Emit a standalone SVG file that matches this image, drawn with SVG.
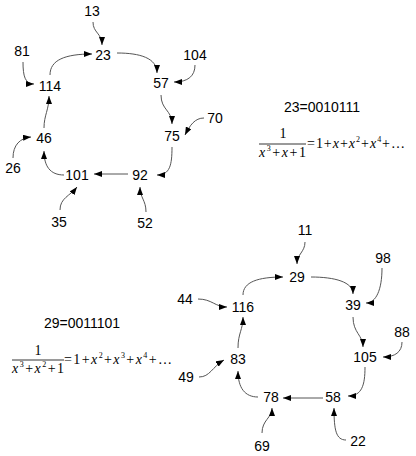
<svg xmlns="http://www.w3.org/2000/svg" width="416" height="456" viewBox="0 0 416 456">
<style>
.n{font-family:"Liberation Sans",Arial,sans-serif;font-size:14px;fill:#000;text-anchor:middle}
.m{font-family:"Liberation Serif","Times New Roman",serif;font-size:14px;fill:#000}
.i{font-style:italic}
.e path{fill:none;stroke:#555;stroke-width:1}
</style>
<defs>
<marker id="a" markerUnits="userSpaceOnUse" markerWidth="8" markerHeight="6" refX="8" refY="3" orient="auto"><path d="M0,0 L8,3 L0,6 z" fill="#000"/></marker>
</defs>
<g id="edges" class="e">
<path marker-end="url(#a)" d="M93,22 C93,33 102,33 102,45"/>
<path marker-end="url(#a)" d="M117,53 C140,53 157,58 157,73"/>
<path marker-end="url(#a)" d="M195,65 C195,76 188,82 174,82"/>
<path marker-end="url(#a)" d="M23,62 C23,76 25,84 34,84"/>
<path marker-end="url(#a)" d="M50,75 C50,60 65,54 92,54"/>
<path marker-end="url(#a)" d="M161,95 C161,110 172,110 172,124"/>
<path marker-end="url(#a)" d="M204,118 C195,118 190,125 185,135"/>
<path marker-end="url(#a)" d="M172,147 C172,165 170,175 157,175"/>
<path marker-end="url(#a)" d="M128,174 L94,174"/>
<path marker-end="url(#a)" d="M60,210 C60,198 70,196 77,187"/>
<path marker-end="url(#a)" d="M146,212 C146,200 140,198 140,187"/>
<path marker-end="url(#a)" d="M64,175 C50,175 44,166 44,151"/>
<path marker-end="url(#a)" d="M13,158 C13,145 20,138 31,137"/>
<path marker-end="url(#a)" d="M44,128 C44,115 49,110 49,96"/>
<path marker-end="url(#a)" d="M305,242 C305,252 297,254 297,264"/>
<path marker-end="url(#a)" d="M311,277 C335,277 353,282 353,294"/>
<path marker-end="url(#a)" d="M382,268 C382,290 376,303 366,303"/>
<path marker-end="url(#a)" d="M198,299 C212,299 215,307 227,307"/>
<path marker-end="url(#a)" d="M243,295 C243,282 258,277 283,277"/>
<path marker-end="url(#a)" d="M353,317 C353,333 363,335 363,347"/>
<path marker-end="url(#a)" d="M402,342 C402,352 395,357 383,357"/>
<path marker-end="url(#a)" d="M365,367 C365,385 362,396 348,396"/>
<path marker-end="url(#a)" d="M323,398 L283,398"/>
<path marker-end="url(#a)" d="M262,433 C262,420 272,418 272,408"/>
<path marker-end="url(#a)" d="M346,440 C336,440 334,430 334,408"/>
<path marker-end="url(#a)" d="M258,397 C245,397 238,388 238,371"/>
<path marker-end="url(#a)" d="M199,377 C210,377 212,367 224,360"/>
<path marker-end="url(#a)" d="M238,348 C238,333 243,330 243,317"/>
</g>
<g id="n13"><text class="n" x="92" y="16">13</text></g>
<g id="n23"><text class="n" x="103" y="60">23</text></g>
<g id="n81"><text class="n" x="22" y="56">81</text></g>
<g id="n104"><text class="n" x="195" y="60">104</text></g>
<g id="n114"><text class="n" x="50" y="91">114</text></g>
<g id="n57"><text class="n" x="161" y="88">57</text></g>
<g id="n75"><text class="n" x="172" y="141">75</text></g>
<g id="n70"><text class="n" x="215" y="123">70</text></g>
<g id="n46"><text class="n" x="44" y="143">46</text></g>
<g id="n26"><text class="n" x="13" y="173">26</text></g>
<g id="n101"><text class="n" x="77" y="180">101</text></g>
<g id="n92"><text class="n" x="140" y="180">92</text></g>
<g id="n35"><text class="n" x="59" y="227">35</text></g>
<g id="n52"><text class="n" x="145" y="228">52</text></g>
<g id="n11"><text class="n" x="305" y="235">11</text></g>
<g id="n29"><text class="n" x="297" y="282">29</text></g>
<g id="n98"><text class="n" x="383" y="263">98</text></g>
<g id="n39"><text class="n" x="353" y="310">39</text></g>
<g id="n44"><text class="n" x="185" y="304">44</text></g>
<g id="n116"><text class="n" x="243" y="312">116</text></g>
<g id="n88"><text class="n" x="402" y="337">88</text></g>
<g id="n105"><text class="n" x="365" y="362">105</text></g>
<g id="n83"><text class="n" x="238" y="364">83</text></g>
<g id="n49"><text class="n" x="186" y="382">49</text></g>
<g id="n78"><text class="n" x="271" y="402">78</text></g>
<g id="n58"><text class="n" x="333" y="402">58</text></g>
<g id="n69"><text class="n" x="262" y="451">69</text></g>
<g id="n22"><text class="n" x="358" y="446">22</text></g>
<g id="label1">
<text class="n" x="322" y="112">23=0010111</text>
<text class="m" x="283" y="138" text-anchor="middle">1</text>
<line x1="259" y1="144" x2="306" y2="144" stroke="#000" stroke-width="0.8"/>
<text class="m" x="259" y="157" textLength="47" lengthAdjust="spacing"><tspan class="i">x</tspan><tspan font-size="8" dy="-6">3</tspan><tspan dy="6">+</tspan><tspan class="i">x</tspan>+1</text>
<text class="m" x="307" y="148" textLength="98" lengthAdjust="spacing">=1+<tspan class="i">x</tspan>+<tspan class="i">x</tspan><tspan font-size="8" dy="-6">2</tspan><tspan dy="6">+</tspan><tspan class="i">x</tspan><tspan font-size="8" dy="-6">4</tspan><tspan dy="6">+…</tspan></text>
</g>
<g id="label2">
<text class="n" x="82" y="328">29=0011101</text>
<text class="m" x="38" y="355" text-anchor="middle">1</text>
<line x1="12" y1="360" x2="64" y2="360" stroke="#000" stroke-width="0.8"/>
<text class="m" x="12" y="373" textLength="52" lengthAdjust="spacing"><tspan class="i">x</tspan><tspan font-size="8" dy="-6">3</tspan><tspan dy="6">+</tspan><tspan class="i">x</tspan><tspan font-size="8" dy="-6">2</tspan><tspan dy="6">+1</tspan></text>
<text class="m" x="64" y="364" textLength="108" lengthAdjust="spacing">=1+<tspan class="i">x</tspan><tspan font-size="8" dy="-6">2</tspan><tspan dy="6">+</tspan><tspan class="i">x</tspan><tspan font-size="8" dy="-6">3</tspan><tspan dy="6">+</tspan><tspan class="i">x</tspan><tspan font-size="8" dy="-6">4</tspan><tspan dy="6">+…</tspan></text>
</g>
</svg>
